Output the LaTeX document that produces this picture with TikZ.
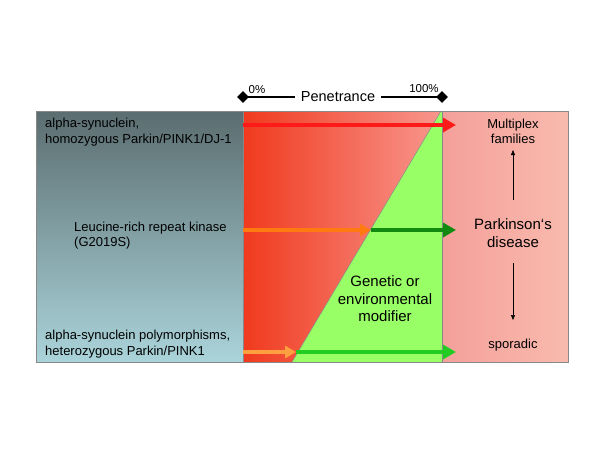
\documentclass[tikz,border=0pt]{standalone}
\usepackage{fontspec}
\setmainfont{Liberation Sans}
\usetikzlibrary{arrows.meta,shapes.geometric}
\definecolor{slatetop}{HTML}{5B6D70}
\definecolor{slatebot}{HTML}{AAD4DA}
\definecolor{redL}{HTML}{F03A1E}
\definecolor{redR}{HTML}{F8978F}
\definecolor{pinkL}{HTML}{F4A09A}
\definecolor{pinkR}{HTML}{F9BAAE}
\definecolor{modgreen}{HTML}{99FF66}
\definecolor{arrred}{HTML}{FF1A1A}
\definecolor{arrorange}{HTML}{FF7A10}
\definecolor{arrorange2}{HTML}{FFA040}
\definecolor{arrdkgreen}{HTML}{118A11}
\definecolor{arrgreen}{HTML}{22CC22}
\definecolor{edge}{HTML}{888888}
\tikzset{
  thick arrow/.style={line width=4pt,-{Triangle[length=13pt,width=14pt]}},
  thin arrow/.style={line width=0.5pt,-{Triangle[length=5pt,width=4pt]}},
  lefttext/.style={font=\fontsize{13}{15.5}\selectfont,align=left,anchor=west,inner sep=0pt},
  righttext/.style={align=center,inner sep=0pt},
  dmd/.style={diamond,fill=black,inner sep=0pt,minimum width=12pt,minimum height=12pt},
}
\begin{document}
\begin{tikzpicture}[x=1pt,y=-1pt]
\useasboundingbox (0,0) rectangle (600,450);
% boxes
\shade[top color=slatetop,bottom color=slatebot,draw=edge,line width=0.6pt] (36,111) rectangle (243,362);
\shade[left color=redL,right color=redR,draw=edge,line width=0.6pt] (243,111) rectangle (442,362);
\shade[left color=pinkL,right color=pinkR,draw=edge,line width=0.6pt] (442,111) rectangle (568,362);
\fill[modgreen] (292,362) -- (441,111) -- (442,111) -- (442,362) -- cycle;
\draw[edge,line width=0.5pt] (292,362) -- (441,111);
\draw[edge,line width=0.6pt] (243,111) rectangle (568,362);
\draw[edge,line width=0.6pt] (442,111) -- (442,362);
% penetrance bar
\node[dmd] (d0) at (243,97) {};
\node[dmd] (d1) at (442,97) {};
\node[font=\fontsize{14.5}{16}\selectfont,inner sep=0pt] (pen) at (338,97) {Penetrance};
\coordinate (pl) at (295,97);
\coordinate (pr) at (381,97);
\draw[line width=2.5pt] (d0.center) -- (pl);
\draw[line width=2.5pt] (pr) -- (d1.center);
\node[font=\fontsize{11.5}{13}\selectfont] (p0) at (257,90) {0\%};
\node[font=\fontsize{11.5}{13}\selectfont] (p100) at (424,89) {100\%};
% coordinates
\coordinate (a1s) at (243,125);
\coordinate (a1e) at (456,125);
\coordinate (a2s) at (243,230);
\coordinate (a2m) at (371,230);
\coordinate (a2e) at (456,230);
\coordinate (a3s) at (243,352);
\coordinate (a3m) at (296,352);
\coordinate (a3e) at (456,352);
% arrows
\draw[thick arrow,arrred] (a1s) -- (a1e);
\draw[line width=3.5pt,-{Triangle[length=11pt,width=12pt]},arrorange] (a2s) -- (a2m);
\draw[thick arrow,arrdkgreen] (a2m) -- (a2e);
\draw[line width=3.5pt,-{Triangle[length=11pt,width=12pt]},arrorange2] (a3s) -- (a3m);
\draw[thick arrow,arrgreen] (a3m) -- (a3e);
% left texts
\node[lefttext] (t1) at (45,132) {alpha-synuclein,\\homozygous Parkin/PINK1/DJ-1};
\node[lefttext] (t2) at (74,235.5) {Leucine-rich repeat kinase\\(G2019S)};
\node[lefttext] (t3) at (45,344) {alpha-synuclein polymorphisms,\\heterozygous Parkin/PINK1};
% modifier
\node[font=\fontsize{15}{17.5}\selectfont,align=center,inner sep=0pt] (mod) at (385,299) {Genetic or\\environmental\\modifier};
% right texts
\node[righttext,font=\fontsize{13}{15}\selectfont] (mf) at (513,131.5) {Multiplex\\families};
\node[righttext,font=\fontsize{15}{18}\selectfont] (pd) at (513,233) {Parkinson‘s\\disease};
\node[righttext,font=\fontsize{13}{15}\selectfont] (sp) at (513,345) {sporadic};
\coordinate (u0) at (513,200);
\coordinate (u1) at (513,150);
\coordinate (w0) at (513,263);
\coordinate (w1) at (513,320);
\draw[thin arrow] (u0) -- (u1);
\draw[thin arrow] (w0) -- (w1);
\end{tikzpicture}
\end{document}
